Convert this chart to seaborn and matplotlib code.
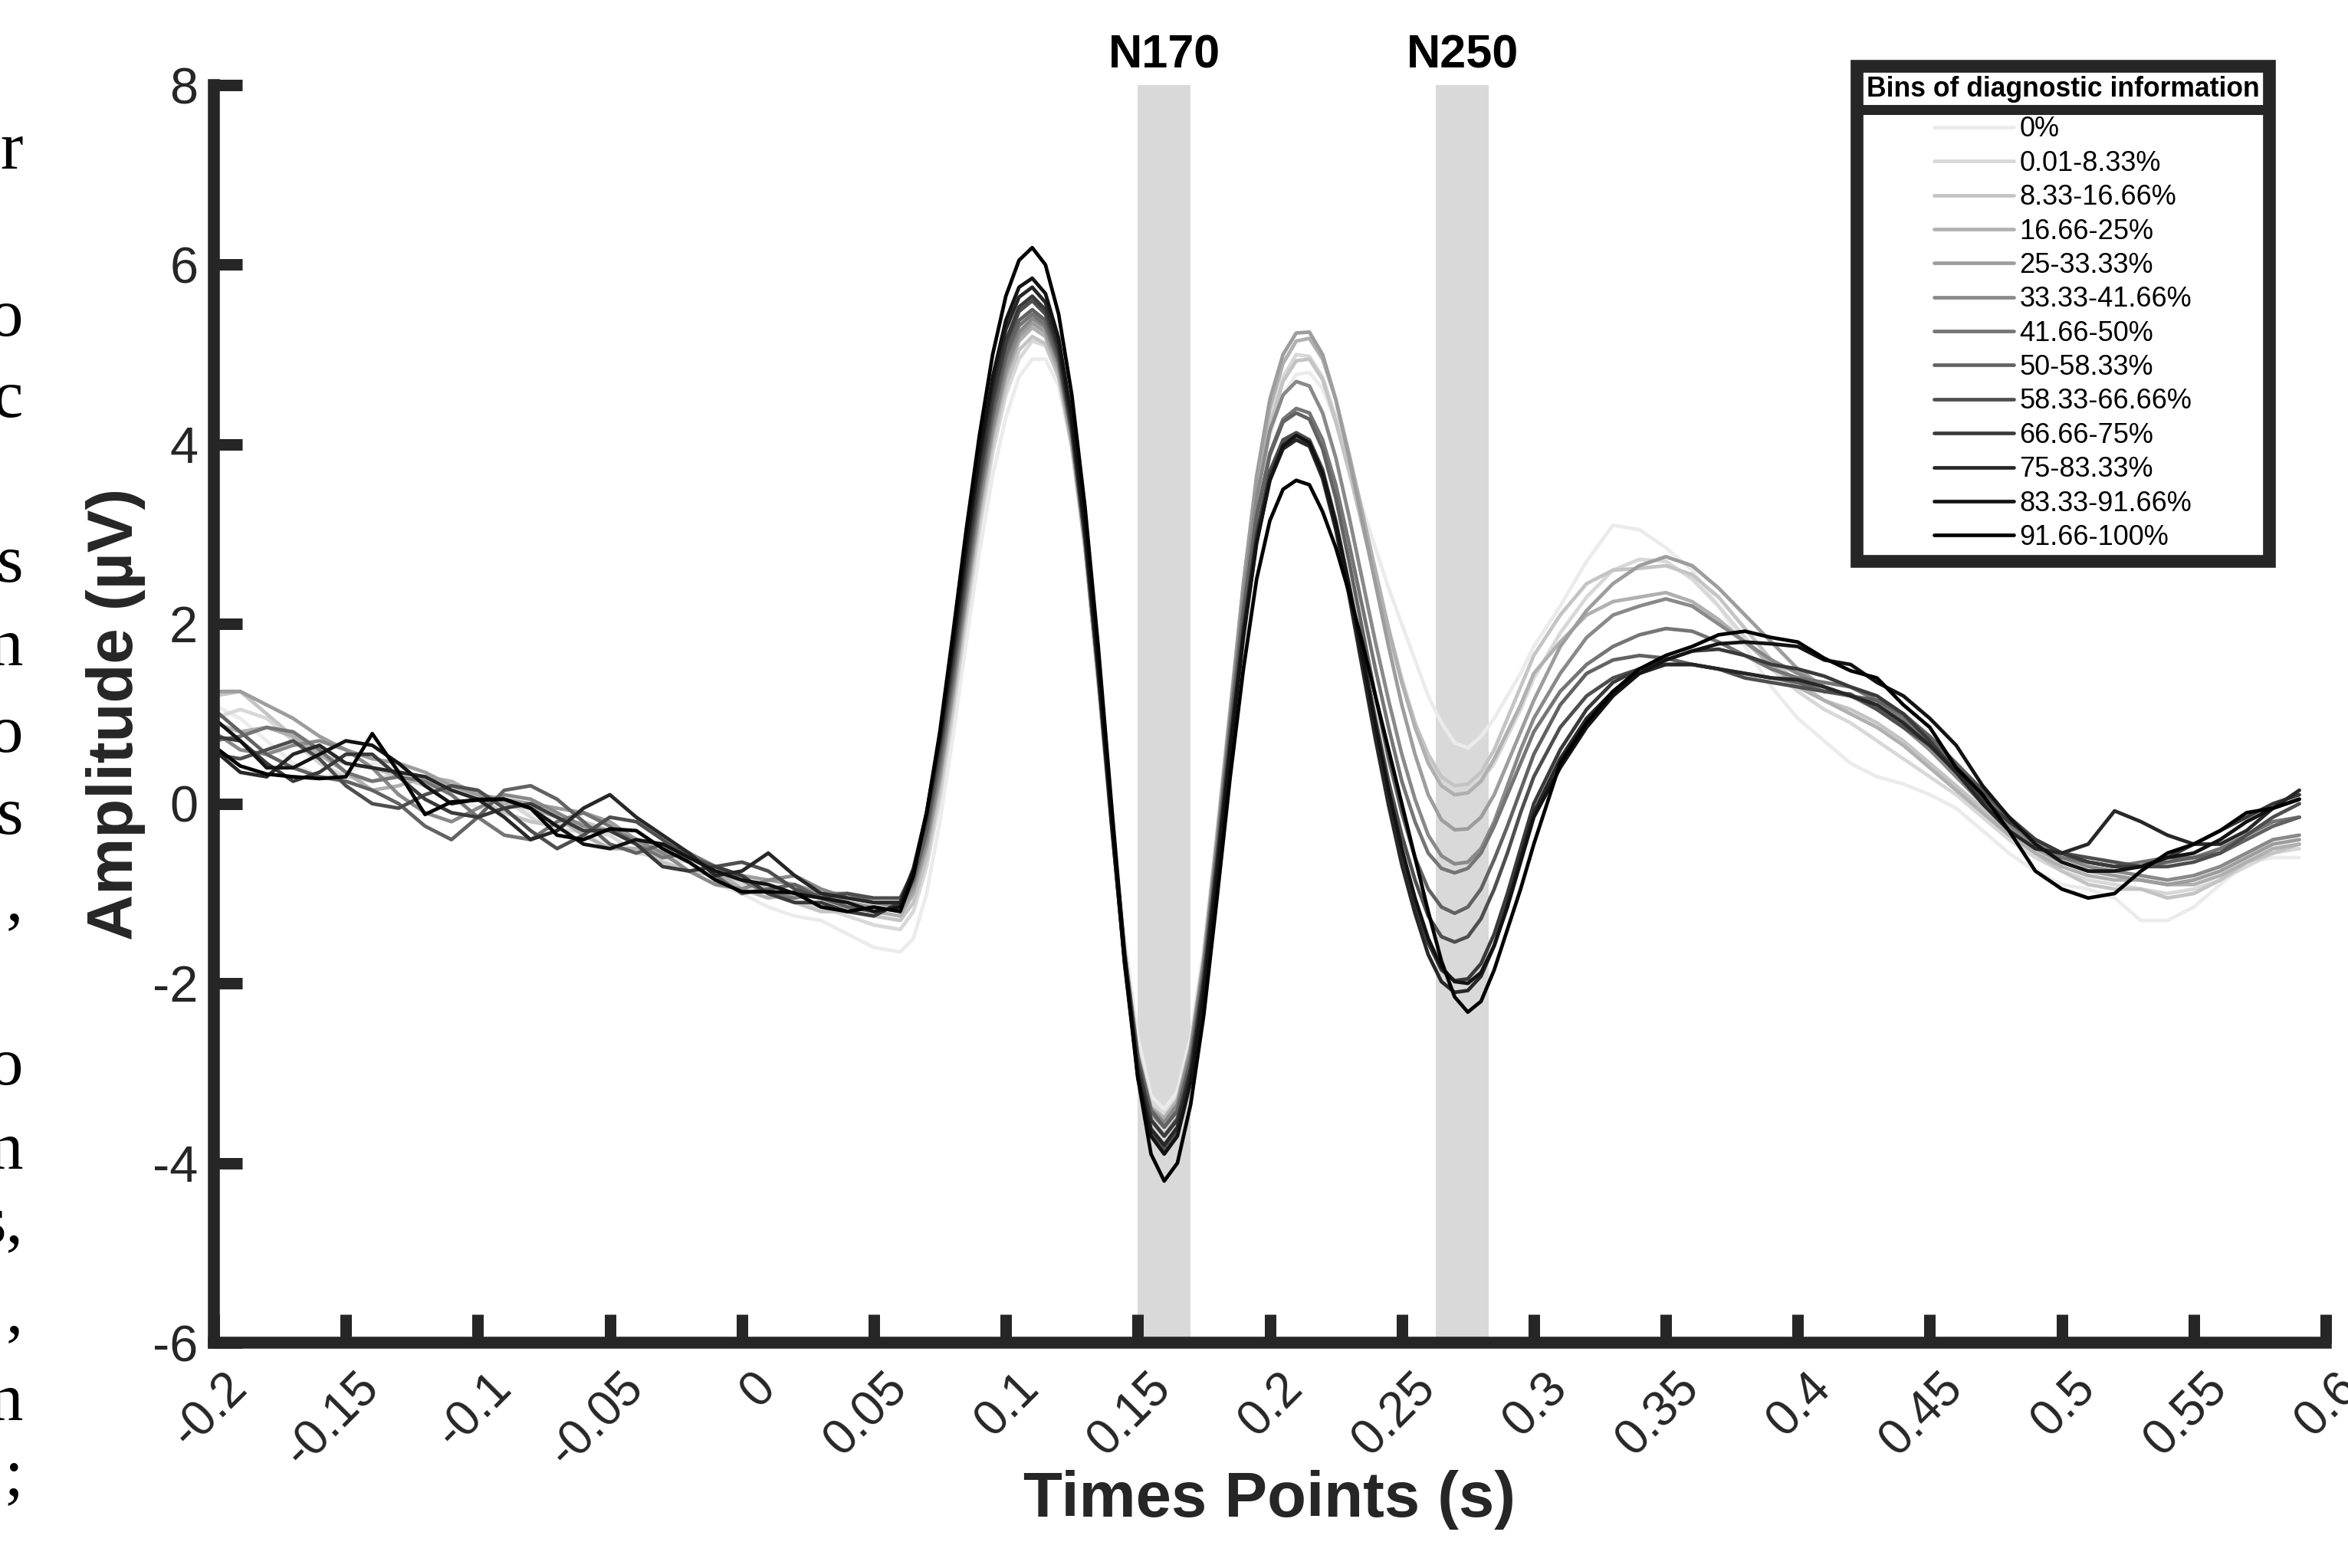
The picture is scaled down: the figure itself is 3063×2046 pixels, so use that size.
import numpy as np
import pandas as pd
import seaborn as sns
import matplotlib.pyplot as plt
from matplotlib.lines import Line2D
from matplotlib.transforms import ScaledTranslation, blended_transform_factory

sns.set_theme(style="white")
plt.rcParams["font.family"] = ["Liberation Sans", "DejaVu Sans"]

# sample times (s): 10 ms steps, 5 ms steps through the N170 / N250 part
times = np.round(np.r_[np.arange(-0.20, 0.051, 0.01),
                       np.arange(0.06, 0.301, 0.005),
                       np.arange(0.31, 0.591, 0.01)], 3)

bin_labels = ["0%", "0.01-8.33%", "8.33-16.66%", "16.66-25%", "25-33.33%",
              "33.33-41.66%", "41.66-50%", "50-58.33%", "58.33-66.66%",
              "66.66-75%", "75-83.33%", "83.33-91.66%", "91.66-100%"]

# amplitudes (uV): baseline / 60-300 ms / late part
bin_00 = [1.10, 0.95, 0.70, 0.45, 0.30, 0.35, 0.45, 0.40, 0.25, 0.10, -0.05, 0.00, -0.10, -0.20, -0.35, -0.45, -0.50, -0.60, -0.75, -0.90, -1.00, -1.15, -1.25, -1.30, -1.45, -1.60,
          -1.65, -1.50, -1.00, -0.20, 0.75, 1.80, 2.80, 3.65, 4.30, 4.75, 4.95, 4.95, 4.65, 3.95, 2.90, 1.50, -0.05, -1.50, -2.60, -3.25, -3.40, -3.20, -2.60, -1.60, -0.30, 1.10, 2.40, 3.40, 4.10, 4.55, 4.78, 4.80, 4.62, 4.25, 3.80, 3.30, 2.85, 2.40, 2.00, 1.60, 1.20, 0.90, 0.68, 0.62, 0.75, 0.95, 1.20, 1.45, 1.75,
          2.20, 2.70, 3.10, 3.05, 2.85, 2.60, 2.20, 1.75, 1.30, 0.95, 0.70, 0.45, 0.30, 0.22, 0.10, -0.05, -0.30, -0.55, -0.75, -0.90, -0.95, -1.05, -1.30, -1.30, -1.15, -0.90, -0.65, -0.60, -0.60]
bin_01 = [0.95, 1.05, 0.95, 0.70, 0.45, 0.30, 0.25, 0.35, 0.30, 0.15, 0.10, 0.05, -0.15, -0.30, -0.30, -0.35, -0.55, -0.60, -0.65, -0.80, -0.90, -1.00, -1.10, -1.15, -1.25, -1.35,
          -1.40, -1.20, -0.70, 0.05, 1.00, 2.05, 3.05, 3.90, 4.55, 4.95, 5.15, 5.10, 4.75, 4.00, 2.90, 1.45, -0.15, -1.60, -2.75, -3.35, -3.50, -3.30, -2.70, -1.70, -0.40, 1.00, 2.35, 3.45, 4.25, 4.75, 5.00, 4.98, 4.75, 4.30, 3.75, 3.15, 2.55, 1.95, 1.40, 0.90, 0.50, 0.25, 0.15, 0.15, 0.25, 0.45, 0.75, 1.05, 1.40,
          1.90, 2.30, 2.60, 2.72, 2.70, 2.50, 2.20, 1.85, 1.50, 1.25, 1.05, 0.90, 0.70, 0.50, 0.30, 0.10, -0.15, -0.40, -0.60, -0.75, -0.85, -0.90, -0.95, -1.00, -0.95, -0.85, -0.70, -0.55, -0.50]
bin_02 = [1.20, 1.25, 1.00, 0.75, 0.55, 0.45, 0.40, 0.30, 0.20, 0.15, 0.05, -0.10, -0.20, -0.25, -0.20, -0.30, -0.45, -0.65, -0.75, -0.80, -0.85, -0.95, -1.10, -1.20, -1.20, -1.25,
          -1.30, -1.10, -0.60, 0.15, 1.10, 2.15, 3.15, 4.00, 4.65, 5.05, 5.20, 5.12, 4.75, 3.98, 2.85, 1.40, -0.20, -1.65, -2.80, -3.40, -3.55, -3.35, -2.75, -1.75, -0.45, 0.95, 2.30, 3.40, 4.20, 4.70, 4.93, 4.95, 4.72, 4.25, 3.70, 3.10, 2.50, 1.90, 1.35, 0.90, 0.55, 0.30, 0.20, 0.22, 0.35, 0.60, 0.95, 1.30, 1.65,
          2.10, 2.45, 2.60, 2.62, 2.65, 2.55, 2.30, 1.95, 1.60, 1.35, 1.15, 1.05, 0.90, 0.70, 0.45, 0.20, -0.05, -0.30, -0.55, -0.75, -0.90, -0.95, -0.95, -1.05, -1.00, -0.85, -0.65, -0.55, -0.45]
bin_03 = [0.90, 0.80, 0.85, 0.75, 0.55, 0.35, 0.15, 0.20, 0.30, 0.25, 0.10, 0.00, -0.05, -0.15, -0.35, -0.50, -0.50, -0.45, -0.55, -0.75, -0.95, -1.05, -1.00, -1.05, -1.15, -1.20,
          -1.25, -1.00, -0.50, 0.25, 1.20, 2.25, 3.25, 4.10, 4.75, 5.15, 5.30, 5.20, 4.80, 4.00, 2.85, 1.35, -0.25, -1.70, -2.82, -3.38, -3.50, -3.30, -2.70, -1.70, -0.35, 1.05, 2.45, 3.60, 4.40, 4.90, 5.15, 5.18, 4.95, 4.50, 3.90, 3.25, 2.60, 1.95, 1.35, 0.85, 0.45, 0.20, 0.10, 0.12, 0.25, 0.50, 0.80, 1.10, 1.45,
          1.80, 2.10, 2.25, 2.30, 2.35, 2.25, 2.05, 1.80, 1.55, 1.30, 1.15, 1.00, 0.85, 0.65, 0.40, 0.15, -0.10, -0.35, -0.55, -0.70, -0.80, -0.85, -0.85, -0.90, -0.90, -0.80, -0.65, -0.50, -0.45]
bin_04 = [1.25, 1.25, 1.10, 0.95, 0.75, 0.60, 0.50, 0.45, 0.35, 0.20, 0.10, 0.05, 0.00, -0.05, -0.10, -0.20, -0.40, -0.55, -0.60, -0.70, -0.80, -0.85, -0.90, -1.00, -1.10, -1.15,
          -1.20, -0.95, -0.45, 0.30, 1.25, 2.30, 3.30, 4.15, 4.80, 5.20, 5.35, 5.25, 4.85, 4.05, 2.90, 1.40, -0.20, -1.70, -2.85, -3.45, -3.60, -3.40, -2.80, -1.80, -0.45, 1.00, 2.45, 3.65, 4.50, 5.00, 5.24, 5.25, 5.00, 4.50, 3.85, 3.15, 2.45, 1.75, 1.10, 0.55, 0.10, -0.18, -0.29, -0.28, -0.15, 0.10, 0.45, 0.80, 1.15,
          1.75, 2.15, 2.45, 2.65, 2.75, 2.65, 2.40, 2.10, 1.80, 1.50, 1.30, 1.20, 1.10, 0.90, 0.60, 0.35, 0.05, -0.25, -0.50, -0.65, -0.75, -0.80, -0.85, -0.90, -0.85, -0.75, -0.60, -0.45, -0.40]
bin_05 = [0.80, 0.60, 0.55, 0.65, 0.70, 0.60, 0.40, 0.10, -0.10, -0.20, -0.05, 0.10, 0.05, -0.10, -0.25, -0.30, -0.40, -0.55, -0.75, -0.90, -0.95, -0.85, -0.80, -0.95, -1.05, -1.10,
          -1.15, -0.90, -0.40, 0.35, 1.30, 2.35, 3.35, 4.20, 4.85, 5.25, 5.40, 5.30, 4.90, 4.10, 2.95, 1.45, -0.15, -1.65, -2.80, -3.40, -3.55, -3.35, -2.75, -1.75, -0.45, 0.95, 2.30, 3.40, 4.15, 4.55, 4.70, 4.65, 4.35, 3.85, 3.20, 2.50, 1.80, 1.15, 0.55, 0.05, -0.35, -0.58, -0.67, -0.65, -0.50, -0.20, 0.20, 0.60, 0.95,
          1.45, 1.85, 2.10, 2.20, 2.28, 2.20, 2.00, 1.80, 1.60, 1.45, 1.30, 1.20, 1.05, 0.85, 0.60, 0.30, 0.00, -0.25, -0.45, -0.60, -0.70, -0.75, -0.80, -0.85, -0.80, -0.70, -0.55, -0.40, -0.35]
bin_06 = [0.70, 0.75, 0.85, 0.80, 0.60, 0.35, 0.25, 0.30, 0.25, 0.10, -0.15, -0.35, -0.40, -0.20, -0.10, -0.25, -0.45, -0.60, -0.55, -0.70, -0.85, -1.00, -1.05, -1.00, -1.00, -1.10,
          -1.10, -0.85, -0.32, 0.45, 1.40, 2.45, 3.45, 4.30, 4.95, 5.32, 5.45, 5.33, 4.92, 4.12, 2.95, 1.45, -0.15, -1.70, -2.90, -3.52, -3.70, -3.50, -2.90, -1.90, -0.60, 0.80, 2.15, 3.20, 3.90, 4.28, 4.40, 4.35, 4.05, 3.55, 2.90, 2.20, 1.50, 0.85, 0.25, -0.20, -0.55, -0.72, -0.77, -0.72, -0.55, -0.25, 0.10, 0.45, 0.80,
          1.25, 1.55, 1.75, 1.88, 1.95, 1.92, 1.80, 1.65, 1.50, 1.40, 1.35, 1.30, 1.15, 0.95, 0.70, 0.40, 0.10, -0.20, -0.45, -0.60, -0.65, -0.70, -0.65, -0.60, -0.60, -0.50, -0.35, -0.20, -0.15]
bin_07 = [1.05, 0.80, 0.55, 0.40, 0.30, 0.25, 0.15, 0.00, -0.25, -0.40, -0.15, 0.15, 0.20, 0.05, -0.20, -0.45, -0.55, -0.45, -0.55, -0.80, -1.00, -0.95, -0.90, -1.05, -1.15, -1.20,
          -1.15, -0.85, -0.30, 0.50, 1.45, 2.50, 3.50, 4.35, 5.00, 5.38, 5.50, 5.38, 4.95, 4.12, 2.95, 1.45, -0.15, -1.65, -2.82, -3.42, -3.60, -3.42, -2.85, -1.85, -0.55, 0.85, 2.15, 3.20, 3.88, 4.25, 4.35, 4.28, 3.95, 3.40, 2.70, 1.95, 1.20, 0.50, -0.10, -0.60, -0.95, -1.15, -1.22, -1.15, -0.95, -0.62, -0.25, 0.15, 0.55,
          1.10, 1.45, 1.60, 1.65, 1.62, 1.55, 1.50, 1.45, 1.40, 1.35, 1.25, 1.20, 1.15, 1.00, 0.75, 0.45, 0.15, -0.15, -0.40, -0.55, -0.65, -0.70, -0.70, -0.65, -0.60, -0.55, -0.40, -0.25, -0.15]
bin_08 = [0.55, 0.50, 0.60, 0.70, 0.50, 0.20, 0.00, -0.05, 0.10, 0.20, 0.15, -0.05, -0.30, -0.50, -0.35, -0.15, -0.20, -0.40, -0.60, -0.70, -0.65, -0.75, -0.95, -1.05, -1.00, -1.05,
          -1.05, -0.75, -0.20, 0.60, 1.55, 2.60, 3.60, 4.45, 5.10, 5.48, 5.60, 5.45, 5.00, 4.15, 2.95, 1.45, -0.20, -1.75, -3.00, -3.65, -3.85, -3.65, -3.05, -2.05, -0.75, 0.65, 1.95, 3.00, 3.70, 4.05, 4.13, 4.05, 3.72, 3.15, 2.45, 1.70, 0.95, 0.25, -0.35, -0.85, -1.25, -1.48, -1.54, -1.48, -1.28, -0.95, -0.55, -0.10, 0.30,
          0.85, 1.20, 1.40, 1.50, 1.55, 1.55, 1.50, 1.40, 1.35, 1.30, 1.25, 1.22, 1.05, 0.85, 0.65, 0.40, 0.15, -0.15, -0.40, -0.55, -0.60, -0.65, -0.70, -0.70, -0.65, -0.55, -0.35, -0.15, 0.00]
bin_09 = [0.75, 0.70, 0.45, 0.25, 0.35, 0.55, 0.55, 0.30, 0.05, -0.10, -0.15, -0.05, 0.00, -0.15, -0.30, -0.30, -0.45, -0.70, -0.75, -0.70, -0.80, -1.00, -1.10, -1.10, -1.20, -1.25,
          -1.10, -0.75, -0.15, 0.65, 1.62, 2.68, 3.68, 4.52, 5.15, 5.53, 5.65, 5.50, 5.05, 4.20, 3.00, 1.50, -0.15, -1.70, -2.90, -3.52, -3.70, -3.52, -2.95, -1.95, -0.65, 0.70, 1.95, 2.98, 3.65, 4.00, 4.10, 4.02, 3.68, 3.10, 2.38, 1.60, 0.82, 0.08, -0.58, -1.12, -1.55, -1.85, -1.97, -1.95, -1.78, -1.45, -1.00, -0.50, 0.00,
          0.60, 1.05, 1.35, 1.50, 1.60, 1.70, 1.72, 1.65, 1.55, 1.50, 1.42, 1.30, 1.20, 1.00, 0.70, 0.35, 0.05, -0.20, -0.40, -0.55, -0.65, -0.70, -0.70, -0.60, -0.45, -0.30, -0.15, 0.00, 0.10]
bin_10 = [0.60, 0.35, 0.30, 0.55, 0.65, 0.45, 0.40, 0.35, 0.30, 0.15, 0.05, -0.15, -0.40, -0.30, -0.05, 0.10, -0.15, -0.35, -0.55, -0.80, -0.75, -0.55, -0.80, -1.00, -1.05, -1.10,
          -1.10, -0.72, -0.10, 0.72, 1.72, 2.80, 3.82, 4.65, 5.28, 5.64, 5.75, 5.58, 5.10, 4.22, 3.02, 1.50, -0.20, -1.78, -3.00, -3.62, -3.80, -3.60, -3.00, -2.00, -0.70, 0.65, 1.90, 2.92, 3.60, 3.95, 4.05, 3.98, 3.62, 3.05, 2.32, 1.52, 0.72, -0.02, -0.68, -1.22, -1.68, -1.98, -2.10, -2.08, -1.92, -1.58, -1.12, -0.60, -0.10,
          0.50, 0.95, 1.25, 1.45, 1.55, 1.55, 1.50, 1.45, 1.40, 1.38, 1.30, 1.20, 1.10, 0.90, 0.65, 0.35, 0.00, -0.30, -0.50, -0.55, -0.45, -0.08, -0.20, -0.35, -0.45, -0.45, -0.30, -0.05, 0.15]
bin_11 = [0.95, 0.70, 0.40, 0.40, 0.55, 0.70, 0.65, 0.45, 0.20, 0.00, 0.05, 0.05, -0.05, -0.25, -0.45, -0.50, -0.40, -0.45, -0.60, -0.75, -0.85, -0.90, -1.00, -1.05, -1.10, -1.20,
          -1.15, -0.75, -0.10, 0.75, 1.78, 2.88, 3.90, 4.75, 5.38, 5.75, 5.85, 5.68, 5.18, 4.30, 3.08, 1.55, -0.15, -1.78, -3.05, -3.70, -3.90, -3.70, -3.10, -2.10, -0.80, 0.58, 1.85, 2.90, 3.60, 3.98, 4.10, 4.02, 3.68, 3.12, 2.42, 1.65, 0.88, 0.15, -0.50, -1.05, -1.50, -1.82, -1.98, -2.00, -1.88, -1.58, -1.15, -0.65, -0.15,
          0.40, 0.85, 1.20, 1.45, 1.60, 1.70, 1.78, 1.80, 1.78, 1.75, 1.60, 1.55, 1.35, 1.20, 0.95, 0.65, 0.20, -0.15, -0.45, -0.65, -0.75, -0.75, -0.70, -0.60, -0.55, -0.40, -0.20, -0.05, 0.05]
bin_12 = [0.64, 0.42, 0.33, 0.30, 0.28, 0.30, 0.78, 0.35, -0.12, 0.02, 0.04, 0.05, -0.05, -0.35, -0.40, -0.28, -0.30, -0.50, -0.65, -0.85, -0.98, -0.98, -0.99, -1.15, -1.20, -1.15,
          -1.20, -0.80, -0.10, 0.80, 1.90, 3.05, 4.10, 5.00, 5.65, 6.05, 6.19, 6.00, 5.45, 4.55, 3.30, 1.75, 0.00, -1.70, -3.05, -3.90, -4.20, -4.00, -3.35, -2.35, -1.05, 0.30, 1.50, 2.50, 3.15, 3.50, 3.60, 3.55, 3.25, 2.85, 2.35, 1.80, 1.20, 0.60, 0.00, -0.60, -1.20, -1.75, -2.15, -2.32, -2.20, -1.85, -1.40, -0.95, -0.45,
          0.45, 0.90, 1.25, 1.50, 1.65, 1.75, 1.88, 1.92, 1.85, 1.80, 1.62, 1.48, 1.40, 1.10, 0.85, 0.40, 0.10, -0.30, -0.75, -0.95, -1.05, -1.00, -0.75, -0.55, -0.45, -0.30, -0.10, -0.05, 0.05]

bins = [bin_00, bin_01, bin_02, bin_03, bin_04, bin_05, bin_06,
        bin_07, bin_08, bin_09, bin_10, bin_11, bin_12]

n170_window = [0.15, 0.17]
n250_window = [0.263, 0.283]

xtick_vals = [-0.2, -0.15, -0.1, -0.05, 0, 0.05, 0.1, 0.15, 0.2, 0.25, 0.3,
              0.35, 0.4, 0.45, 0.5, 0.55, 0.6]
xtick_labels = ["-0.2", "-0.15", "-0.1", "-0.05", "0", "0.05", "0.1", "0.15",
                "0.2", "0.25", "0.3", "0.35", "0.4", "0.45", "0.5", "0.55", "0.6"]
ytick_vals = [-6, -4, -2, 0, 2, 4, 6, 8]
ytick_labels = ["-6", "-4", "-2", "0", "2", "4", "6", "8"]

# bits of the neighbouring page column that show at the left edge
margin_text = [("r", 200), ("o", 418), ("c", 524), ("s", 739), ("n", 848),
               ("o", 961), ("s", 1068), (",", 1180), ("o", 1395), ("n", 1505),
               ("s,", 1600), (",", 1718), ("n", 1833), (";", 1930)]

for b in bins:
    assert len(b) == len(times)

df = pd.DataFrame({
    "time": np.tile(times, len(bins)),
    "amp": np.concatenate(bins),
    "bin": np.repeat(bin_labels, len(times)),
})

W, H = 3063, 2046
fig = plt.figure(figsize=(W / 200, H / 200), dpi=200)
ax = fig.add_axes([279 / W, 1 - 1752 / H, 2755 / W, 1641 / H])

ax.axvspan(*n170_window, color="#d9d9d9", lw=0, zorder=0)
ax.axvspan(*n250_window, color="#d9d9d9", lw=0, zorder=0)

palette = sns.blend_palette(["#ebebeb", "#000000"], len(bins))
sns.lineplot(data=df, x="time", y="amp", hue="bin", hue_order=bin_labels,
             palette=palette, estimator=None, errorbar=None, lw=1.7,
             legend=False, ax=ax)

ax.set_xlim(-0.2, 0.6)
ax.set_ylim(-6, 8)
ax.spines[["top", "right"]].set_visible(False)
for s in ["left", "bottom"]:
    ax.spines[s].set_linewidth(5.6)
    ax.spines[s].set_color("#262626")

ax.set_xticks(xtick_vals, xtick_labels, rotation=45, ha="right")
ax.set_yticks(ytick_vals, ytick_labels)
ax.tick_params(bottom=True, left=True, direction="in", length=13.3, width=5.4,
               color="#262626", labelcolor="#262626")
ax.tick_params(axis="x", pad=10.3, labelsize=23)
ax.tick_params(axis="y", pad=7.5, labelsize=24)
shift = ScaledTranslation(0.276, 0, fig.dpi_scale_trans)
for lab in ax.get_xticklabels():
    lab.set_transform(lab.get_transform() + shift)

ax.set_xlabel("Times Points (s)", fontsize=30, fontweight="bold", color="#262626")
ax.xaxis.set_label_coords(1656 / W, 1 - 1979 / H, transform=fig.transFigure)
ax.xaxis.label.set_va("baseline")
ax.set_ylabel("Amplitude (µV)", fontsize=30, fontweight="bold", color="#262626")
ax.yaxis.set_label_coords(151 / W, 1 - 932 / H, transform=fig.transFigure)
ax.yaxis.label.set_va("center")

top = blended_transform_factory(ax.transData, ax.transAxes)
ax.text(sum(n170_window) / 2, 1.014, "N170", transform=top, ha="center",
        va="baseline", fontsize=22, fontweight="bold", color="black", clip_on=False)
ax.text(sum(n250_window) / 2, 1.014, "N250", transform=top, ha="center",
        va="baseline", fontsize=22, fontweight="bold", color="black", clip_on=False)

handles = [Line2D([], [], color=c, lw=1.7) for c in palette]
leg = ax.legend(handles, bin_labels, title="Bins of diagnostic information",
                loc="upper right", bbox_to_anchor=(2960 / W, 1 - 86 / H),
                bbox_transform=fig.transFigure, borderaxespad=0, fontsize=13,
                title_fontproperties={"weight": "bold", "size": 12.8},
                frameon=True, fancybox=False, edgecolor="#262626", framealpha=1,
                borderpad=0.35, labelspacing=0.26, handlelength=2.9,
                handletextpad=0.2, alignment="center", labelcolor="black")
leg.get_title().set_color("black")
leg.get_frame().set_linewidth(6)
# a little more room between the title and the entries
leg._legend_box.sep = 0.26 * 13 + 3

for ch, yc in margin_text:
    fig.text(30 / W, 1 - (yc + 20) / H, ch, ha="right", va="baseline",
             fontsize=32, family="Liberation Serif", color="black")

# bar under the legend title, as in the original box
fig.canvas.draw()
r = fig.canvas.get_renderer()
tb = leg.get_title().get_window_extent(r)
eb = leg.get_texts()[0].get_window_extent(r)
fb = leg.get_window_extent(r)
ysep = (tb.y0 + eb.y1) / 2
fig.add_artist(Line2D([fb.x0 / W, fb.x1 / W], [ysep / H, ysep / H],
                      transform=fig.transFigure, color="#262626", lw=4.7,
                      solid_capstyle="butt"))

fig.savefig("out.png", dpi=200)
